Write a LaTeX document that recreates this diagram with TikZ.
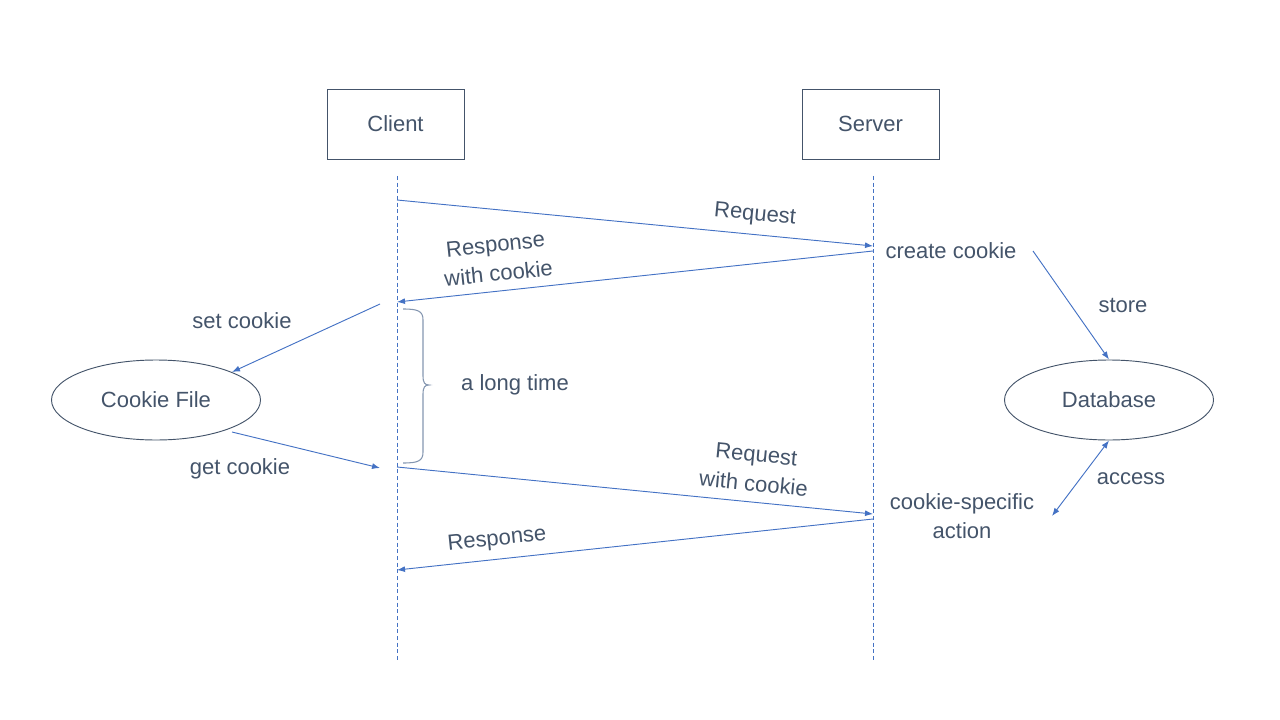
\documentclass[tikz,border=0pt]{standalone}
\usepackage{fontspec}
\setmainfont{Liberation Sans}
\usetikzlibrary{arrows.meta,shapes.geometric}
\definecolor{txt}{HTML}{44546A}
\definecolor{arr}{HTML}{4472C4}
\definecolor{brc}{HTML}{8496B0}
\begin{document}
\begin{tikzpicture}[x=0.75pt,y=-0.75pt,
  every node/.style={text=txt,font=\fontsize{16.5}{22}\selectfont},
  actor/.style={draw=txt,line width=0.7pt,minimum width=137*0.75pt,minimum height=70*0.75pt,inner sep=0pt},
  store/.style={draw=txt,line width=0.7pt,ellipse,minimum width=209*0.75pt,minimum height=80*0.75pt,inner sep=0pt},
  life/.style={draw=arr,line width=0.7pt,dash pattern=on 3pt off 2pt},
  msg/.style={draw=arr,line width=0.7pt,-{Latex[length=6pt,width=4.5pt]}},
  dmsg/.style={draw=arr,line width=0.7pt,{Latex[length=6pt,width=4.5pt]}-{Latex[length=6pt,width=4.5pt]}},
  lbl/.style={align=center,inner sep=1pt}]
\useasboundingbox (0,0) rectangle (1280,720);
% actors
\node[actor] (client) at (395.5,124) {Client};
\node[actor] (server) at (870.5,124) {Server};
% lifelines
\coordinate (ct) at (397,176); \coordinate (cb) at (397,662);
\coordinate (st) at (873,176); \coordinate (sb) at (873,662);
\draw[life] (ct) -- (cb);
\draw[life] (st) -- (sb);
% message points
\coordinate (c1) at (397,200); \coordinate (s1) at (873,246);
\coordinate (s2) at (873,251); \coordinate (c2) at (397,302);
\coordinate (c3) at (397,467); \coordinate (s3) at (873,514);
\coordinate (s4) at (873,519); \coordinate (c4) at (397,570);
\draw[msg] (c1) -- (s1);
\draw[msg] (s2) -- (c2);
\draw[msg] (c3) -- (s3);
\draw[msg] (s4) -- (c4);
\node[lbl,rotate=-5.5] (l1) at (755,215) {Request};
\node[lbl,rotate=6] (l2) at (497,259) {Response\\with cookie};
\node[lbl,rotate=-5.5] (l3) at (755,469) {Request\\with cookie};
\node[lbl,rotate=6] (l4) at (497,540) {Response};
% server side
\node[lbl] (create) at (951,251) {create cookie};
\node[lbl] (action) at (962,516) {cookie-specific\\action};
\node[store] (db) at (1109,400) {Database};
\coordinate (createE) at (1033,251);
\coordinate (actionE) at (1052,516);
\draw[msg] (createE) -- (db.north);
\draw[dmsg] (actionE) -- (db.south);
\node[lbl] (storel) at (1123,305) {store};
\node[lbl] (accessl) at (1131,479) {access};
% client side
\node[store] (file) at (156,400) {Cookie File};
\coordinate (setS) at (380,304);
\coordinate (getE) at (380,468);
\draw[msg] (setS) -- (232,372);
\draw[msg] (232,432) -- (getE);
\node[lbl] (setl) at (242,321) {set cookie};
\node[lbl] (getl) at (240,469) {get cookie};
% brace
\draw[brc,line width=0.8pt] (403,309) .. controls (418,309) and (423,311) .. (423,320) -- (423,376)
  .. controls (423,383) and (425,385) .. (429,385) .. controls (425,385) and (423,387) .. (423,394)
  -- (423,452) .. controls (423,461) and (418,463) .. (403,463);
\node[lbl] (longl) at (515,385) {a long time};
\end{tikzpicture}
\end{document}
